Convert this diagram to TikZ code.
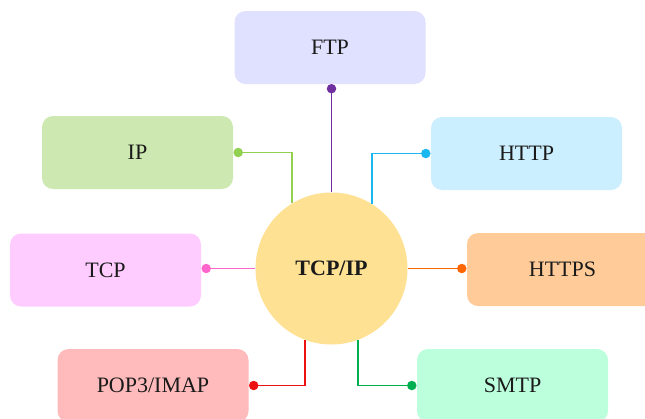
\documentclass[tikz,border=0pt]{standalone}
\usepackage{fontspec}
\setmainfont{Liberation Serif}
\usetikzlibrary{calc}
\definecolor{ftpfill}{HTML}{E0E0FF}
\definecolor{ipfill}{HTML}{CDE8B0}
\definecolor{httpfill}{HTML}{CCEFFF}
\definecolor{tcpfill}{HTML}{FFCCFF}
\definecolor{httpsfill}{HTML}{FFCC99}
\definecolor{popfill}{HTML}{FFBBBB}
\definecolor{smtpfill}{HTML}{BBFFDD}
\definecolor{hubfill}{HTML}{FFE193}
\definecolor{ftpline}{HTML}{7030A0}
\definecolor{ipline}{HTML}{92D050}
\definecolor{httpline}{HTML}{1AB8F0}
\definecolor{tcpline}{HTML}{FF66CC}
\definecolor{httpsline}{HTML}{FF6600}
\definecolor{popline}{HTML}{EE1111}
\definecolor{smtpline}{HTML}{00B050}
\definecolor{ink}{HTML}{1A1A1A}
\tikzset{
  proto/.style={rectangle, rounded corners=11pt, minimum width=191pt,
    minimum height=73pt, inner sep=0pt, text=ink,
    font=\fontsize{22}{26}\selectfont},
  hub/.style={circle, fill=hubfill, minimum size=152pt, inner sep=0pt,
    text=ink, font=\fontsize{22}{26}\selectfont\bfseries},
  link/.style={line width=1.9pt},
  knob/.style={circle, fill, inner sep=0pt, minimum size=9.5pt}
}
\begin{document}
\begin{tikzpicture}[x=1pt,y=-1pt]
\useasboundingbox (0,0) rectangle (645,418);
\clip (0,0) rectangle (645,418);

% protocol boxes
\node[proto, fill=ftpfill]   (ftp)   at (330,47.5)    {FTP};
\node[proto, fill=ipfill]    (ip)    at (137.5,152.5) {IP};
\node[proto, fill=httpfill]  (http)  at (526.5,153.5) {HTTP};
\node[proto, fill=tcpfill]   (tcp)   at (105.5,270)   {TCP};
\node[proto, fill=httpsfill] (https) at (562.5,269.5) {HTTPS};
\node[proto, fill=popfill]   (pop)   at (153,385.5)   {POP3/IMAP};
\node[proto, fill=smtpfill]  (smtp)  at (512.5,385.5) {SMTP};

% central hub
\node[hub] (core) at (331.5,268.5) {TCP/IP};

% connector end points, just outside each box, aligned with the hub
\coordinate (ftpk)   at ($(core.north |- ftp.south)+(0,4.5)$);
\coordinate (ipk)    at ($(ip.east)+(5,0)$);
\coordinate (httpk)  at ($(http.west)+(-5,0)$);
\coordinate (tcpk)   at ($(tcp.east |- core.west)+(5,0)$);
\coordinate (httpsk) at ($(https.west |- core.east)+(-5,0)$);
\coordinate (popk)   at ($(pop.east)+(5,0)$);
\coordinate (smtpk)  at ($(smtp.west)+(-5,0)$);

% connectors
\draw[link, ftpline]   (core.north) -- (ftpk);
\draw[link, ipline]    (core.121) |- (ipk);
\draw[link, httpline]  (core.58) |- (httpk);
\draw[link, tcpline]   (core.west) -- (tcpk);
\draw[link, httpsline] (core.east) -- (httpsk);
\draw[link, popline]   (core.250) |- (popk);
\draw[link, smtpline]  (core.290) |- (smtpk);

% end dots
\node[knob, ftpline]   at (ftpk)   {};
\node[knob, ipline]    at (ipk)    {};
\node[knob, httpline]  at (httpk)  {};
\node[knob, tcpline]   at (tcpk)   {};
\node[knob, httpsline] at (httpsk) {};
\node[knob, popline]   at (popk)   {};
\node[knob, smtpline]  at (smtpk)  {};
\end{tikzpicture}
\end{document}
